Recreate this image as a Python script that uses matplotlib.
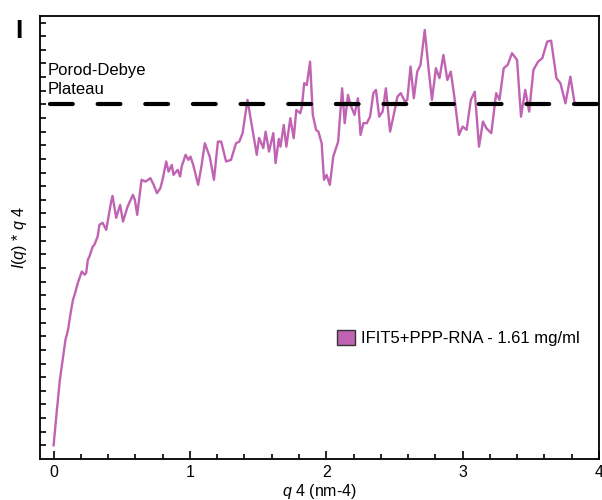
import matplotlib
matplotlib.use("Agg")
import matplotlib.pyplot as plt
from matplotlib.patches import Patch

plt.rcParams['font.family'] = ['Liberation Sans', 'DejaVu Sans']
plt.rcParams['mathtext.fontset'] = 'custom'
plt.rcParams['mathtext.it'] = 'Liberation Sans:italic'
plt.rcParams['mathtext.rm'] = 'Liberation Sans'
plt.rcParams['lines.scale_dashes'] = False

# q^4 (nm^-4) and I(q)*q^4 (arbitrary units, y ticks unlabeled)
q4 = [0.00, 0.022, 0.046, 0.070, 0.087, 0.106, 0.125, 0.142, 0.154, 0.178,
      0.207, 0.227, 0.239, 0.251, 0.263, 0.287, 0.299, 0.323, 0.336, 0.359,
      0.386, 0.408, 0.420, 0.432, 0.459, 0.488, 0.509, 0.542, 0.565, 0.582,
      0.596, 0.613, 0.638, 0.645, 0.674, 0.710, 0.734, 0.758, 0.783, 0.799,
      0.826, 0.843, 0.867, 0.879, 0.910, 0.928, 0.939, 0.968, 0.988, 1.004,
      1.024, 1.060, 1.084, 1.109, 1.145, 1.176, 1.205, 1.229, 1.265, 1.301,
      1.338, 1.362, 1.386, 1.422, 1.459, 1.490, 1.507, 1.538, 1.555, 1.580,
      1.611, 1.628, 1.652, 1.664, 1.688, 1.707, 1.736, 1.761, 1.780, 1.809,
      1.821, 1.838, 1.857, 1.881, 1.901, 1.925, 1.942, 1.966, 1.983, 2.002,
      2.026, 2.051, 2.087, 2.116, 2.135, 2.159, 2.178, 2.207, 2.232, 2.251,
      2.272, 2.297, 2.321, 2.345, 2.364, 2.388, 2.413, 2.437, 2.468, 2.497,
      2.522, 2.546, 2.577, 2.594, 2.618, 2.642, 2.667, 2.691, 2.722, 2.751,
      2.775, 2.804, 2.830, 2.859, 2.888, 2.913, 2.939, 2.973, 3.000, 3.029,
      3.060, 3.089, 3.120, 3.149, 3.174, 3.210, 3.246, 3.270, 3.301, 3.330,
      3.362, 3.399, 3.428, 3.459, 3.488, 3.519, 3.553, 3.584, 3.620, 3.649,
      3.688, 3.717, 3.754, 3.790, 3.819]
iq4 = [0.00, 2.37, 4.81, 6.52, 7.74, 8.48, 9.72, 10.67, 11.04, 11.92,
       12.75, 12.51, 12.65, 13.60, 13.85, 14.58, 14.70, 15.31, 16.17, 16.32,
       15.80, 17.05, 17.76, 18.29, 16.68, 17.63, 16.41, 17.49, 18.00, 18.37,
       18.00, 16.90, 18.88, 19.47, 19.34, 19.59, 19.10, 18.49, 18.86, 19.47,
       20.81, 20.07, 20.56, 19.83, 20.20, 19.71, 20.44, 21.30, 20.93, 21.17,
       20.56, 19.10, 20.44, 22.15, 21.17, 19.47, 22.27, 22.27, 20.81, 20.93,
       22.15, 22.27, 22.89, 25.33, 23.13, 21.30, 22.54, 21.79, 23.00, 21.54,
       22.89, 20.69, 22.47, 21.90, 23.49, 21.90, 23.99, 22.52, 24.59, 24.35,
       24.84, 26.55, 26.42, 28.13, 24.23, 23.13, 23.00, 22.15, 19.47, 19.83,
       19.10, 21.17, 22.27, 26.18, 23.62, 25.69, 24.96, 24.23, 25.45, 22.76,
       23.62, 23.62, 24.10, 25.82, 26.06, 24.10, 24.47, 26.18, 23.00, 24.35,
       25.57, 25.82, 25.20, 25.33, 27.77, 25.45, 27.40, 27.89, 30.45, 27.52,
       25.33, 27.65, 26.92, 28.62, 26.79, 27.40, 25.57, 22.76, 23.37, 23.13,
       25.33, 25.93, 21.90, 23.74, 23.25, 22.89, 25.82, 25.33, 27.65, 27.89,
       28.75, 28.26, 24.10, 26.06, 24.47, 27.52, 28.13, 28.38, 29.60, 29.67,
       26.92, 26.55, 25.08, 27.03, 25.20]
plateau = 25.0
series_label = 'IFIT5+PPP-RNA - 1.61 mg/ml'
line_color = '#c163b3'

fig = plt.figure(figsize=(6.02, 5.0), dpi=100)
ax = fig.add_axes([0.0664, 0.082, 0.9286, 0.8866])

ax.plot(q4, iq4, color=line_color, linewidth=1.7)
ax.plot([-0.026, 4.2], [plateau, plateau], color='black', linewidth=3,
        linestyle=(0, (16.4, 17.9)), dash_capstyle='round')

ax.set_xlim(-0.1, 4.0)
ax.set_ylim(-1, 31.5)
ax.set_xticks([0, 1, 2, 3, 4])
ax.set_xticks([x / 5 for x in range(1, 20) if x % 5], minor=True)
ax.set_yticks(range(0, 32))
ax.set_yticklabels([])
ax.tick_params(direction='in', width=1.2, labelsize=11.5, pad=4)
ax.tick_params(axis='x', which='major', length=6)
ax.tick_params(axis='x', which='minor', length=3.5, width=1.2, direction='in')
ax.tick_params(axis='y', length=4)
for s in ax.spines.values():
    s.set_linewidth(1.3)

ax.set_xlabel(r'$\mathit{q}$ 4 (nm-4)', fontsize=11.5, labelpad=2)
ax.set_ylabel(r'$\mathit{I(q)}$ * $\mathit{q}$ 4', fontsize=11.5, labelpad=4)

fig.text(48 / 602, 1 - 94 / 500, 'Porod-Debye\nPlateau',
         fontsize=12, ha='left', va='baseline', linespacing=1.3)
fig.text(15 / 602, 1 - 38 / 500, 'I', fontsize=19, fontweight='bold',
         ha='left', va='baseline')

handle = Patch(facecolor=line_color, edgecolor='#333333', linewidth=1)
ax.legend([handle], [series_label], loc='center left',
          bbox_to_anchor=(337 / 602, 1 - 338 / 500), bbox_transform=fig.transFigure,
          frameon=False, fontsize=12, handlelength=1.1, handleheight=1.0,
          handletextpad=0.35, borderpad=0, borderaxespad=0)

fig.savefig('out.png', dpi=100)
